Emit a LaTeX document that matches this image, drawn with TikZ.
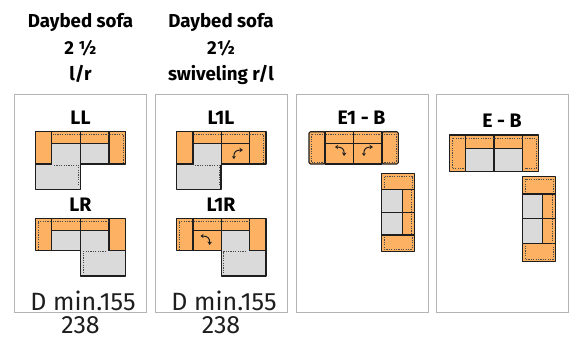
\documentclass[tikz,border=0pt]{standalone}
\usepackage{fontspec}
\setmainfont{Fira Sans}
\definecolor{org}{HTML}{FDB163}
\definecolor{gry}{HTML}{DADADA}
\definecolor{pan}{HTML}{B4B4B4}
\definecolor{ink}{HTML}{1E1E1E}
\usetikzlibrary{arrows.meta}
\tikzset{x=1pt,y=-1pt,
 panel/.style={draw=pan,line width=1pt,fill=white},
 or/.style={draw=ink,line width=1.1pt,fill=org,line join=round},
 gr/.style={draw=ink,line width=1.1pt,fill=gry,line join=round},
 dots/.style={draw=ink!80,line width=.6pt,dash pattern=on 1.2pt off 1.2pt},
 head/.style={font=\bfseries\fontsize{18.7}{26.5}\selectfont,align=center,inner sep=0pt,text=black},
 lab/.style={font=\bfseries\fontsize{19.5}{22}\selectfont,inner sep=0pt,text=black},
 dim/.style={font=\fontsize{25}{28}\selectfont,inner sep=0pt,text=ink},
 swiv/.style={draw=ink,line width=1pt,{Stealth[length=3pt,width=4pt]}-{Stealth[length=3.5pt,width=4.5pt]}}}
\newcommand{\swr}[2]{\draw[swiv] (#1-4,#2+5) .. controls (#1-4.5,#2-2) and (#1-2,#2-4) .. (#1+5,#2-4);}
\newcommand{\swl}[2]{\draw[swiv] (#1-5,#2-4) .. controls (#1+2,#2-4) and (#1+4.5,#2-2) .. (#1+4,#2+5);}
\begin{document}
\begin{tikzpicture}
\useasboundingbox (0,0) rectangle (571,338);
\fill[white] (0,0) rectangle (571,338);
% panels
\draw[panel] (14.5,94.5) rectangle (146.5,312);
\draw[panel] (155.5,94.5) rectangle (287.5,312);
\draw[panel] (296,94.5) rectangle (428,312);
\draw[panel] (436,94.5) rectangle (568,312);
% headings
\node[head,anchor=north] (h1) at (80.5,13.5) {Daybed sofa\\2 ½\\l/r};
\node[head,anchor=north] (h2) at (221,13.5) {Daybed sofa\\2½\\swiveling r/l};
\node[lab] (ll) at (80.5,118) {LL};
\node[lab] (lr) at (80.5,205) {LR};
\node[lab] (l1l) at (221,118) {L1L};
\node[lab] (l1r) at (221,205) {L1R};
\node[lab] (e1b) at (361.5,118) {E1 - B};
\node[lab] (eb) at (502,120.7) {E - B};
\node[dim] (d1) at (83,300.5) {D min.155};
\node[dim] (d2) at (224,300.5) {D min.155};
\node[dim] (w1) at (80.5,325) {238};
\node[dim] (w2) at (221,325) {238};
% LL
\draw[or] (35.7,131.7) rectangle (51.7,164);
\draw[or] (109,131.7) rectangle (125.7,164);
\draw[gr] (51.7,143.3) rectangle (80.7,164);
\draw[gr] (80.7,143.3) rectangle (109,164);
\draw[or] (51.7,131.7) rectangle (80.7,143.3);
\draw[or] (80.7,131.7) rectangle (109,143.3);
\draw[gr] (35.7,164) rectangle (80.5,189.3);
\fill[gry] (52.3,163.2) rectangle (80,164.8);
\draw[dots] (54,164.8) -- (78,164.8) -- (78,185.7);
\draw[dots] (52.5,134.5) -- (109,134.5);
\draw[dots] (109.5,134.5) -- (123,134.5) -- (123,162);
% LR
\draw[or] (35.7,218.3) rectangle (51.7,250.7);
\draw[or] (109,218.3) rectangle (125.7,250.7);
\draw[gr] (51.7,230.7) rectangle (80.7,250.7);
\draw[gr] (80.7,230.7) rectangle (109,250.7);
\draw[or] (51.7,218.3) rectangle (80.7,230.7);
\draw[or] (80.7,218.3) rectangle (109,230.7);
\draw[gr] (80.7,250.7) rectangle (125.7,276);
\fill[gry] (81.3,249.9) rectangle (108.4,251.5);
\draw[dots] (106,251.5) -- (83,251.5) -- (83,273);
\draw[dots] (52.5,221) -- (109,221);
\draw[dots] (51,221) -- (38,221) -- (38,249);
% L1L
\draw[or] (176.7,131.7) rectangle (193,164);
\draw[or] (249.7,131.7) rectangle (266,164);
\draw[gr] (193,143.3) rectangle (221.3,164);
\draw[or] (221.3,143.3) rectangle (249.7,164);
\draw[or] (193,131.7) rectangle (221.3,143.3);
\draw[or] (221.3,131.7) rectangle (249.7,143.3);
\draw[gr] (176.7,164) rectangle (221,189.3);
\fill[gry] (193.6,163.2) rectangle (220.5,164.8);
\draw[dots] (195,164.8) -- (219,164.8) -- (219,185.7);
\draw[dots] (193.5,134.5) -- (249.7,134.5);
\draw[dots] (250,134.5) -- (263.5,134.5) -- (263.5,162);
\swr{238}{154}
% L1R
\draw[or] (176.7,218.3) rectangle (193,250.7);
\draw[or] (249.7,218.3) rectangle (266,250.7);
\draw[or] (193,230.7) rectangle (221.3,250.7);
\draw[gr] (221.3,230.7) rectangle (249.7,250.7);
\draw[or] (193,218.3) rectangle (221.3,230.7);
\draw[or] (221.3,218.3) rectangle (249.7,230.7);
\draw[gr] (221.3,250.7) rectangle (266,276);
\fill[gry] (221.9,249.9) rectangle (249.1,251.5);
\draw[dots] (246,251.5) -- (223.5,251.5) -- (223.5,273);
\draw[dots] (193.5,221) -- (249.7,221);
\draw[dots] (192,221) -- (179,221) -- (179,249);
\swl{205.5}{240}
% E1-B horizontal
\draw[or,rounded corners=1.5pt] (309,131.7) rectangle (325,164);
\draw[or,rounded corners=1.5pt] (382,131.7) rectangle (398.3,164);
\draw[or] (325,143.3) rectangle (353.7,164);
\draw[or] (353.7,143.3) rectangle (382,164);
\draw[or] (325,131.7) rectangle (353.7,143.3);
\draw[or] (353.7,131.7) rectangle (382,143.3);
\draw[dots] (325.5,134.3) -- (382,134.3);
\draw[dots] (323,134) -- (311,134) -- (311,162) -- (323,162);
\draw[dots] (384,134) -- (396,134) -- (396,162) -- (384,162);
\swl{340}{151}
\swr{368}{151}
% E1-B vertical
\draw[or] (381.7,173.3) rectangle (414.3,189.3);
\draw[or] (381.7,235) rectangle (414.3,251.3);
\draw[gr] (381.7,189.3) rectangle (402.3,212.3);
\draw[gr] (381.7,212.3) rectangle (402.3,235);
\draw[or] (402.3,189.3) rectangle (414.3,212.3);
\draw[or] (402.3,212.3) rectangle (414.3,235);
\draw[dots] (411.7,189.5) -- (411.7,235);
\draw[dots] (384,187.5) -- (384,176) -- (412,176) -- (412,187.5);
\draw[dots] (384,237) -- (384,249) -- (412,249) -- (412,237);
% E-B horizontal
\draw[or] (449.3,135) rectangle (465.7,171.3);
\draw[or] (522.7,135) rectangle (538.3,171.3);
\draw[gr] (465.7,148.7) rectangle (494,171.3);
\draw[gr] (494,148.7) rectangle (522.7,171.3);
\draw[or] (465.7,135) rectangle (494,148.7);
\draw[or] (494,135) rectangle (522.7,148.7);
\draw[dots] (466.2,138.5) -- (522.7,138.5);
\draw[dots] (464,138) -- (452,138) -- (452,168.5) -- (464,168.5);
\draw[dots] (524.5,138) -- (536,138) -- (536,168.5) -- (524.5,168.5);
% E-B vertical
\draw[or] (522.3,176.3) rectangle (555.3,194);
\draw[or] (522.3,243.7) rectangle (555.3,261.7);
\draw[gr] (522.3,194) rectangle (542.7,218.3);
\draw[gr] (522.3,218.3) rectangle (542.7,243.7);
\draw[or] (542.7,194) rectangle (555.3,218.3);
\draw[or] (542.7,218.3) rectangle (555.3,243.7);
\draw[dots] (552,194.5) -- (552,243.5);
\draw[dots] (525,192) -- (525,179) -- (553,179) -- (553,192);
\draw[dots] (525,245.5) -- (525,259) -- (553,259) -- (553,245.5);
\end{tikzpicture}
\end{document}
